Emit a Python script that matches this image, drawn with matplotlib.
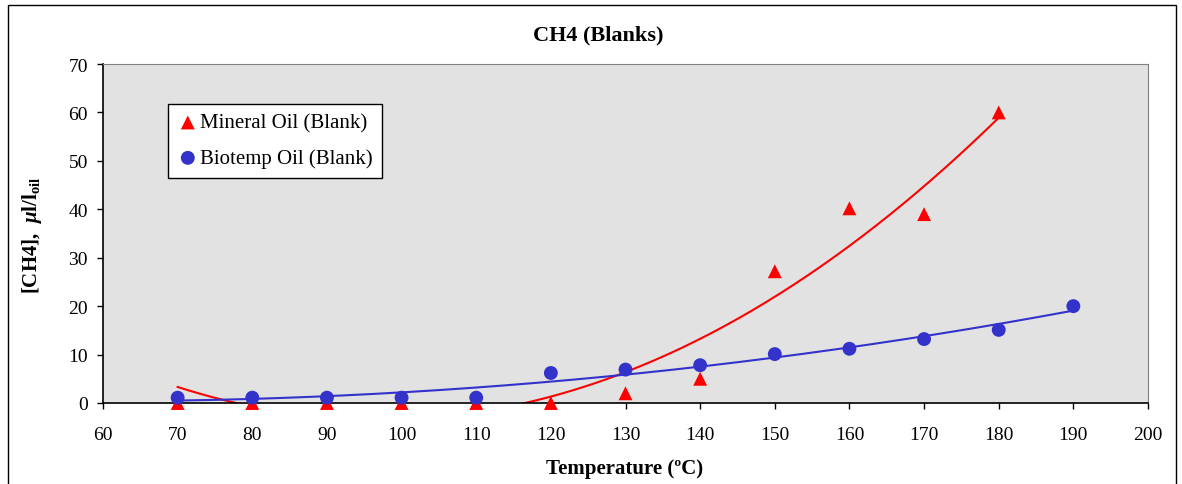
import numpy as np
import matplotlib
matplotlib.use("Agg")
import matplotlib.pyplot as plt
from matplotlib.patches import Rectangle

plt.rcParams['font.family'] = ['Liberation Serif', 'DejaVu Serif']
plt.rcParams['mathtext.fontset'] = 'custom'
plt.rcParams['mathtext.rm'] = 'Liberation Serif'
plt.rcParams['mathtext.bf'] = 'Liberation Serif:bold'
plt.rcParams['mathtext.it'] = 'Liberation Serif:italic:bold'

mineral_temp = [70, 80, 90, 100, 110, 120, 130, 140, 150, 160, 170, 180]
mineral_ch4 = [0, 0, 0, 0, 0, 0, 2, 5, 27.2, 40.2, 39, 60]
biotemp_temp = [70, 80, 90, 100, 110, 120, 130, 140, 150, 160, 170, 180, 190]
biotemp_ch4 = [1.1, 1.1, 1.1, 1.1, 1.1, 6.2, 6.9, 7.8, 10.1, 11.2, 13.2, 15.1, 20]

x_ticks = list(range(60, 201, 10))
y_ticks = list(range(0, 71, 10))

fig = plt.figure(figsize=(11.82, 4.85), dpi=100)
ax = fig.add_axes([103/1182, 1-404/485, (1148-103)/1182, (404-65)/485])
ax.set_facecolor('#e2e2e2')

# trendlines (polynomial fits of the data)
mt = np.array(mineral_temp, float); mc = np.array(mineral_ch4, float)
bt = np.array(biotemp_temp, float); bc = np.array(biotemp_ch4, float)
pm = np.polyfit(mt, mc, 2)
pb = np.polyfit(bt, bc, 2)
xm = np.linspace(mt.min(), mt.max(), 300)
xb = np.linspace(bt.min(), bt.max(), 300)
ax.plot(xm, np.polyval(pm, xm), color='#ff0000', lw=1.5, zorder=2)
ax.plot(xb, np.polyval(pb, xb), color='#3333cc', lw=1.5, zorder=2)

ax.scatter(mineral_temp, mineral_ch4, marker='^', s=100, color='#ff0000',
           edgecolors='none', zorder=3, clip_on=False, label='Mineral Oil (Blank)')
ax.scatter(biotemp_temp, biotemp_ch4, marker='o', s=100, color='#3333cc',
           edgecolors='none', zorder=4, clip_on=False, label='Biotemp Oil (Blank)')

ax.set_xlim(60, 200)
ax.set_ylim(0, 70)
ax.set_xticks(x_ticks)
ax.set_yticks(y_ticks)
ax.tick_params(direction='out', length=4, width=1, labelsize=14, colors='black')
ax.tick_params(axis='x', pad=12.5)
ax.tick_params(axis='y', pad=6.8)
for s in ['top', 'right']:
    ax.spines[s].set_color('#808080')
for s in ['left', 'bottom']:
    ax.spines[s].set_color('black')
    ax.spines[s].set_linewidth(1.2)

fig.text(625/1182, 1-469/485, 'Temperature (ºC)', fontsize=15, fontweight='bold',
         ha='center', va='center')
fig.text(32/1182, 1-235/485, '[CH4],  $\\mathit{μ}$l/l$_{\\mathbf{oil}}$', fontsize=15,
         fontweight='bold', ha='center', va='center', rotation=90)
fig.text(598/1182, 1-35/485, 'CH4 (Blanks)', fontsize=16, fontweight='bold',
         ha='center', va='center')

leg = ax.legend(loc='upper left', bbox_to_anchor=((168-103)/1045, 1-(105-65)/339),
                frameon=True, fancybox=False, fontsize=15, handletextpad=0.1,
                borderpad=0.45, labelspacing=0.75, handlelength=1.0, borderaxespad=0)
leg.get_frame().set_edgecolor('black')
leg.get_frame().set_linewidth(1)
leg.get_frame().set_facecolor('white')
leg.get_frame().set_alpha(1)

fig.patches.append(Rectangle((8/1182, -0.05), (1176-8)/1182, 1.05-6/485,
                             transform=fig.transFigure, fill=False,
                             edgecolor='black', lw=1))

fig.savefig('out.png', dpi=100)
